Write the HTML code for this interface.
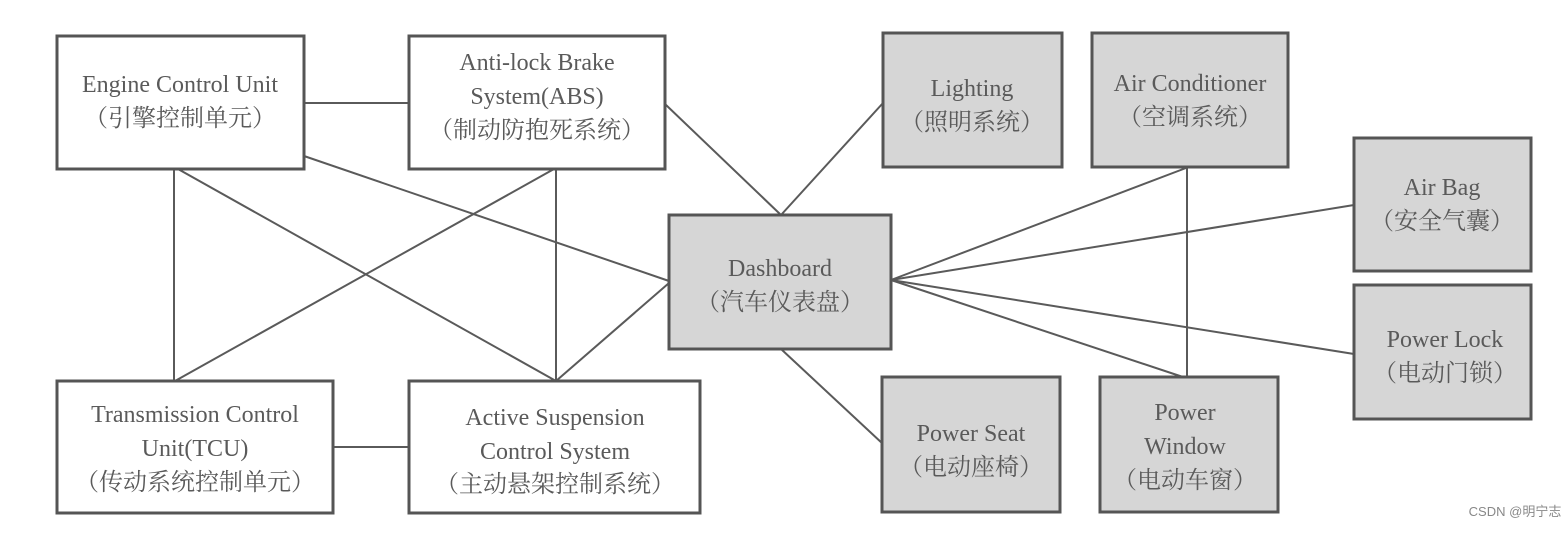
<!DOCTYPE html>
<html><head><meta charset="utf-8"><style>
body{margin:0;background:#fff;}
svg text{font-family:"Liberation Serif","Noto Serif CJK SC","Noto Sans CJK SC",serif;font-size:24px;fill:#5a5a5a;text-anchor:middle;}
</style></head><body>
<svg width="1564" height="528" viewBox="0 0 1564 528" xmlns="http://www.w3.org/2000/svg">
<g stroke="#5a5a5a" stroke-width="2" fill="none">
<line x1="304" y1="103" x2="409" y2="103"/>
<line x1="333" y1="447" x2="409" y2="447"/>
<line x1="174" y1="169" x2="174" y2="381"/>
<line x1="304" y1="156" x2="669" y2="281"/>
<line x1="178" y1="169" x2="556" y2="381"/>
<line x1="554" y1="169" x2="175" y2="381"/>
<line x1="556" y1="169" x2="556" y2="381"/>
<line x1="556" y1="381" x2="669" y2="283"/>
<line x1="665" y1="104" x2="781" y2="215"/>
<line x1="781" y1="215" x2="883" y2="103"/>
<line x1="781" y1="349" x2="883" y2="444"/>
<line x1="891" y1="280" x2="1186" y2="168"/>
<line x1="891" y1="280" x2="1354" y2="205"/>
<line x1="891" y1="280" x2="1354" y2="354"/>
<line x1="891" y1="280" x2="1186" y2="378"/>
<line x1="1187" y1="167" x2="1187" y2="378"/>
</g>
<g stroke="#555" stroke-width="3" fill="#fff">
<rect x="57" y="36" width="247" height="133"/>
<rect x="409" y="36" width="256" height="133"/>
<rect x="57" y="381" width="276" height="132"/>
<rect x="409" y="381" width="291" height="132"/>
</g>
<g stroke="#555" stroke-width="3" fill="#d6d6d6">
<rect x="669" y="215" width="222" height="134"/>
<rect x="883" y="33" width="179" height="134"/>
<rect x="1092" y="33" width="196" height="134"/>
<rect x="1354" y="138" width="177" height="133"/>
<rect x="1354" y="285" width="177" height="134"/>
<rect x="882" y="377" width="178" height="135"/>
<rect x="1100" y="377" width="178" height="135"/>
</g>
<text x="180" y="92">Engine Control Unit</text>
<text x="180" y="126">（引擎控制单元）</text>
<text x="537" y="70">Anti-lock Brake</text>
<text x="537" y="104">System(ABS)</text>
<text x="537" y="138">（制动防抱死系统）</text>
<text x="195" y="422">Transmission Control</text>
<text x="195" y="456">Unit(TCU)</text>
<text x="195" y="490">（传动系统控制单元）</text>
<text x="555" y="425">Active Suspension</text>
<text x="555" y="459">Control System</text>
<text x="555" y="492">（主动悬架控制系统）</text>
<text x="780" y="276">Dashboard</text>
<text x="780" y="310">（汽车仪表盘）</text>
<text x="972" y="96">Lighting</text>
<text x="972" y="130">（照明系统）</text>
<text x="1190" y="91">Air Conditioner</text>
<text x="1190" y="125">（空调系统）</text>
<text x="1442" y="195">Air Bag</text>
<text x="1442" y="229">（安全气囊）</text>
<text x="1445" y="347">Power Lock</text>
<text x="1445" y="381">（电动门锁）</text>
<text x="971" y="441">Power Seat</text>
<text x="971" y="475">（电动座椅）</text>
<text x="1185" y="420">Power</text>
<text x="1185" y="454">Window</text>
<text x="1185" y="488">（电动车窗）</text>
<text x="1515" y="516" style="font-family:'Liberation Sans','Noto Sans CJK SC',sans-serif;font-size:13px;fill:#888;">CSDN @明宁志</text>
</svg>
</body></html>
